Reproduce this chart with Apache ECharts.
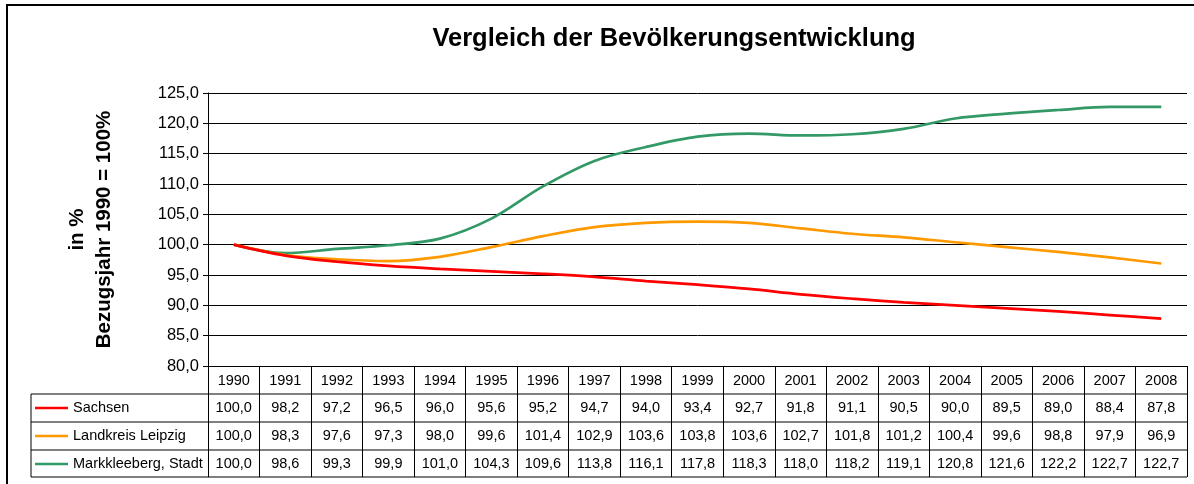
<!DOCTYPE html>
<html>
<head>
<meta charset="utf-8">
<script src="https://cdn.jsdelivr.net/npm/echarts@6/dist/echarts.min.js"></script>
<style>
  html, body { margin: 0; padding: 0; background: #fff; }
  #chart { width: 1194px; height: 484px; }
</style>
</head>
<body>
<div id="chart"></div>
<script>
var years = ['1990','1991','1992','1993','1994','1995','1996','1997','1998','1999','2000','2001','2002','2003','2004','2005','2006','2007','2008'];
var sachsen = [100.0,98.2,97.2,96.5,96.0,95.6,95.2,94.7,94.0,93.4,92.7,91.8,91.1,90.5,90.0,89.5,89.0,88.4,87.8];
var leipzig = [100.0,98.3,97.6,97.3,98.0,99.6,101.4,102.9,103.6,103.8,103.6,102.7,101.8,101.2,100.4,99.6,98.8,97.9,96.9];
var markkleeberg = [100.0,98.6,99.3,99.9,101.0,104.3,109.6,113.8,116.1,117.8,118.3,118.0,118.2,119.1,120.8,121.6,122.2,122.7,122.7];
var seriesNames = ['Sachsen', 'Landkreis Leipzig', 'Markkleeberg, Stadt'];
var colors = ['#ff0000', '#ff9900', '#339966'];

var FONT = 'Liberation Sans, Arial, sans-serif';
var chart = echarts.init(document.getElementById('chart'));

function fmt(v) {
  return v.toFixed(1).replace('.', ',');
}

var allData = [sachsen, leipzig, markkleeberg];

var option = {
  animation: false,
  textStyle: { fontFamily: FONT },
  title: {
    text: 'Vergleich der Bevölkerungsentwicklung',
    left: 669,
    top: 21,
    textAlign: 'center',
    textStyle: { fontFamily: FONT, fontSize: 25.5, fontWeight: 'bold', color: '#000' }
  },
  grid: { left: 208, right: 7, top: 93, bottom: 118 },
  xAxis: {
    type: 'category',
    data: years,
    boundaryGap: true,
    axisLine: { lineStyle: { color: '#000', width: 1 } },
    axisTick: { show: true, interval: 0, length: 111, lineStyle: { color: '#000', width: 1 } },
    axisLabel: { interval: 0, margin: 7, fontSize: 14.5, color: '#000', fontFamily: FONT }
  },
  yAxis: {
    type: 'value',
    min: 80,
    max: 125,
    interval: 5,
    name: 'in %\nBezugsjahr 1990 = 100%',
    nameLocation: 'middle',
    nameRotate: 90,
    nameGap: 90,
    nameTextStyle: { fontFamily: FONT, fontSize: 20.5, fontWeight: 'bold', color: '#000', lineHeight: 27 },
    axisLine: { show: true, lineStyle: { color: '#000', width: 1 } },
    axisTick: { show: true, length: 5, lineStyle: { color: '#000' } },
    axisLabel: { fontSize: 16.5, color: '#000', margin: 9, fontFamily: FONT, formatter: function (v) { return fmt(v); } },
    splitLine: { lineStyle: { color: '#000', width: 1 } }
  },
  series: allData.map(function (d, i) {
    return {
      name: seriesNames[i],
      type: 'line',
      data: d,
      smooth: 0.35,
      symbol: 'none',
      lineStyle: { color: colors[i], width: 2.7 },
      z: 3 + (allData.length - i)
    };
  })
};

chart.setOption(option);

// data table below the plot
var rowTops = [394, 422, 450];
var rowH = 28;
var tableLeft = 31;
var bandW = chart.convertToPixel({ xAxisIndex: 0 }, 1) - chart.convertToPixel({ xAxisIndex: 0 }, 0);
var tableRight = chart.convertToPixel({ xAxisIndex: 0 }, years.length - 1) + bandW / 2;
var graphics = [];

// outer frame
graphics.push({ type: 'rect', shape: { x: 7, y: 5, width: 1200, height: 490 }, style: { fill: null, stroke: '#000', lineWidth: 2 }, silent: true });

var hLines = rowTops.concat([rowTops[2] + rowH - 1]);
hLines.forEach(function (y) {
  graphics.push({ type: 'line', shape: { x1: tableLeft, y1: y, x2: tableRight, y2: y }, style: { stroke: '#000', lineWidth: 1 }, silent: true });
});
graphics.push({ type: 'line', shape: { x1: tableLeft, y1: rowTops[0], x2: tableLeft, y2: hLines[3] }, style: { stroke: '#000', lineWidth: 1 }, silent: true });

allData.forEach(function (d, i) {
  var cy = rowTops[i] + rowH / 2;
  graphics.push({ type: 'line', shape: { x1: 35, y1: cy, x2: 68, y2: cy }, style: { stroke: colors[i], lineWidth: 2.7 }, silent: true });
  graphics.push({ type: 'text', x: 73, y: cy, style: { text: seriesNames[i], fontFamily: FONT, fontSize: 14.5, fill: '#000', textVerticalAlign: 'middle', verticalAlign: 'middle' }, silent: true });
  d.forEach(function (v, j) {
    var cx = chart.convertToPixel({ xAxisIndex: 0 }, j);
    graphics.push({ type: 'text', x: cx, y: cy, style: { text: fmt(v), fontFamily: FONT, fontSize: 14.5, fill: '#000', align: 'center', textAlign: 'center', verticalAlign: 'middle', textVerticalAlign: 'middle' }, silent: true });
  });
});

chart.setOption({ graphic: graphics });
</script>
</body>
</html>
